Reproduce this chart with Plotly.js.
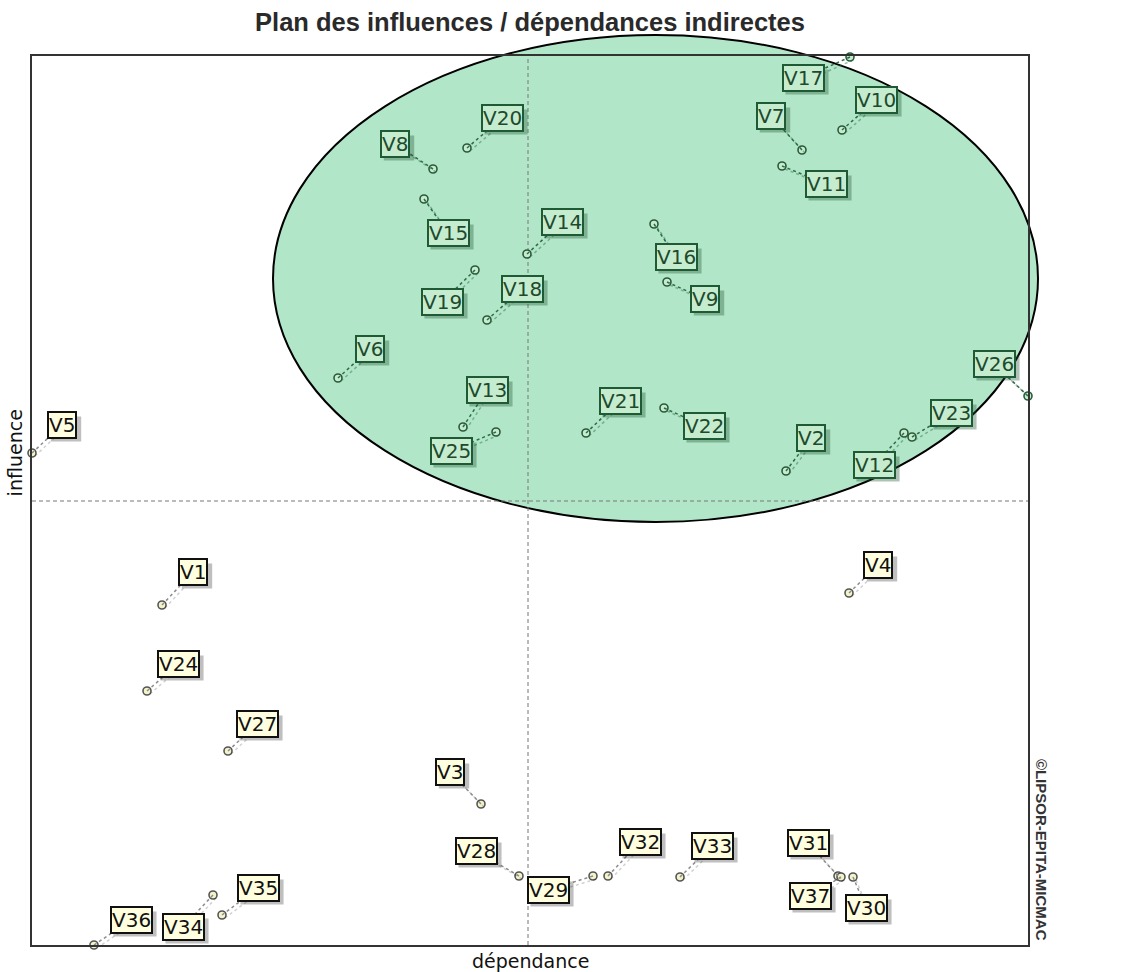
<!DOCTYPE html>
<html>
<head>
<meta charset="utf-8">
<script src="https://cdn.plot.ly/plotly-3.0.1.min.js"></script>
<style>
  html, body { margin: 0; padding: 0; background: #ffffff; }
  #chart { width: 1124px; height: 972px; }
</style>
</head>
<body>
<div id="chart"></div>
<script>
// Variable names
const variables = ['V1','V2','V3','V4','V5','V6','V7','V8','V9','V10',
  'V11','V12','V13','V14','V15','V16','V17','V18','V19','V20',
  'V21','V22','V23','V24','V25','V26','V27','V28','V29','V30',
  'V31','V32','V33','V34','V35','V36','V37'];
// Indirect dependence (x)
const dependance = [130, 754, 449, 817, 0, 306, 770, 401, 635, 810,
  750, 872, 431, 495, 392, 622, 818, 455, 443, 435,
  554, 632, 880, 115, 464, 996, 196, 487, 561, 821,
  806, 576, 648, 181, 190, 62, 809];
// Indirect influence (y)
const influence = [340, 474, 141, 352, 492, 567, 795, 776, 663, 815,
  779, 512, 518, 691, 746, 721, 888, 625, 675, 797,
  512, 537, 508, 254, 513, 549, 194, 69, 69, 68,
  69, 69, 68, 50, 30, 0, 68];
// Variables inside the highlighted (green) zone
const highlighted = ['V2','V6','V7','V8','V9','V10','V11','V12','V13','V14','V15','V16',
  'V17','V18','V19','V20','V21','V22','V23','V25','V26'];
const meanDependance = 496;
const meanInfluence = 444;

// Label placement offsets in screen pixels (dx right, dy down)
const labelOffsets = [[31,-33],[25,-33],[-31,-32],[29,-28],[30,-28],[32,-29],[-31,-34],[-38,-25],[38,17],[34,-30],
  [44,18],[-30,32],[24,-37],[35,-32],[24,34],[22,33],[-47,21],[35,-31],[-33,32],[35,-30],
  [34,-32],[40,18],[39,-24],[31,-27],[-45,19],[-34,-32],[29,-27],[-43,-25],[-45,14],[13,31],
  [-30,-33],[32,-34],[32,-31],[-30,32],[36,-27],[37,-25],[-31,19]];

const X_RANGE = [0, 996], Y_RANGE = [0, 889];
// highlighted ellipse in axis units
const ell = {x0: 241, x1: 1006, y0: 423, y1: 910};
const inside = variables.map(v => highlighted.includes(v));

const LABEL_FONT = 'DejaVu Sans, Liberation Sans, sans-serif';
const LABEL_SIZE = 20;
const PAD = 0;
const shapes = [];
const annotations = [];

// ellipse (paper coordinates so it is not clipped)
const toFrac = (v, r) => (v - r[0]) / (r[1] - r[0]);
shapes.push({type: 'circle', xref: 'paper', yref: 'paper', layer: 'below',
  x0: toFrac(ell.x0, X_RANGE), x1: toFrac(ell.x1, X_RANGE),
  y0: toFrac(ell.y0, Y_RANGE), y1: toFrac(ell.y1, Y_RANGE),
  fillcolor: '#b2e6c8', line: {color: '#000000', width: 2}});
// mean lines
shapes.push({type: 'line', xref: 'x', yref: 'paper', layer: 'below', x0: meanDependance, x1: meanDependance, y0: 0, y1: 1,
  line: {color: '#777777', width: 1, dash: '4px,3px'}});
shapes.push({type: 'line', xref: 'paper', yref: 'y', layer: 'below', x0: 0, x1: 1, y0: meanInfluence, y1: meanInfluence,
  line: {color: '#777777', width: 1, dash: '4px,3px'}});

variables.forEach((name, i) => {
  const [dx, dy] = labelOffsets[i];
  const g = inside[i];
  // dotted connectors (and their shadow)
  shapes.push({type: 'line', xref: 'x', yref: 'y', xsizemode: 'pixel', ysizemode: 'pixel',
    xanchor: dependance[i], yanchor: influence[i], x0: 3, y0: -3, x1: dx * 0.7 + 3, y1: -dy * 0.7 - 3,
    line: {color: g ? 'rgba(40,110,70,0.45)' : 'rgba(0,0,0,0.18)', width: 1.5, dash: 'dot'}});
  shapes.push({type: 'line', xref: 'x', yref: 'y', xsizemode: 'pixel', ysizemode: 'pixel',
    xanchor: dependance[i], yanchor: influence[i], x0: 0, y0: 0, x1: dx * 0.7, y1: -dy * 0.7,
    line: {color: g ? '#2f6b45' : '#8c8c8c', width: 1.5, dash: 'dot'}});
  // label drop shadow (box behind the label)
  const w = 13.7 + 12.7 * (name.length - 1) + 2 * PAD + 4, h = 25;
  shapes.push({type: 'rect', xref: 'x', yref: 'y', xsizemode: 'pixel', ysizemode: 'pixel', layer: 'above',
    xanchor: dependance[i], yanchor: influence[i],
    x0: dx - w / 2 + 4, x1: dx + w / 2 + 4, y0: -dy - h / 2 - 4, y1: -dy + h / 2 - 4,
    fillcolor: g ? 'rgba(30,80,50,0.35)' : 'rgba(0,0,0,0.25)', line: {width: 0}});
  // label
  annotations.push({x: dependance[i], y: influence[i], xref: 'x', yref: 'y', text: name, showarrow: false,
    xshift: dx, yshift: -dy, xanchor: 'center', yanchor: 'middle',
    font: {family: LABEL_FONT, size: LABEL_SIZE, color: g ? '#1d4a2c' : '#111111'},
    bgcolor: g ? '#c6eccf' : '#ffffe0', bordercolor: g ? '#1e5a34' : '#111111', borderwidth: 2, borderpad: PAD});
});

// axis titles / credits
annotations.push({xref: 'paper', yref: 'paper', x: 0.5, y: 0, yshift: -16, text: 'dépendance', showarrow: false,
  xanchor: 'center', yanchor: 'middle', font: {family: LABEL_FONT, size: 19, color: '#111'}});
annotations.push({xref: 'paper', yref: 'paper', x: 0, y: 0.553, xshift: -17, text: 'influence', showarrow: false, textangle: -90,
  xanchor: 'center', yanchor: 'middle', font: {family: LABEL_FONT, size: 19, color: '#111'}});
annotations.push({xref: 'paper', yref: 'paper', x: 1, y: 0.107, xshift: 13, text: '©LIPSOR-EPITA-MICMAC', showarrow: false, textangle: 90,
  xanchor: 'center', yanchor: 'middle', font: {family: 'Liberation Sans, Arial, sans-serif', size: 15, color: '#333', weight: 'bold'}});

const trace = {
  type: 'scatter', mode: 'markers', x: dependance, y: influence, text: variables,
  hovertemplate: '%{text}<br>dépendance %{x}<br>influence %{y}<extra></extra>',
  marker: {size: 8, symbol: 'circle',
    color: inside.map(g => g ? '#c6eccf' : '#f4f4cc'),
    line: {width: 1.6, color: inside.map(g => g ? '#2a5a3a' : '#555555')}},
  cliponaxis: false, showlegend: false
};

const layout = {
  width: 1124, height: 972,
  margin: {l: 32, r: 96, t: 56, b: 27},
  paper_bgcolor: '#ffffff', plot_bgcolor: 'rgba(0,0,0,0)',
  title: {text: '<b>Plan des influences / dépendances indirectes</b>', x: 0.5, xref: 'paper', y: 0.977, yanchor: 'middle',
    font: {family: 'Liberation Sans, Arial, sans-serif', size: 25.5, color: '#2a2a2a'}},
  xaxis: {range: X_RANGE, showticklabels: false, ticks: '', showgrid: false, zeroline: false,
    showline: true, mirror: true, linecolor: '#333', linewidth: 2, fixedrange: true},
  yaxis: {range: Y_RANGE, showticklabels: false, ticks: '', showgrid: false, zeroline: false,
    showline: true, mirror: true, linecolor: '#333', linewidth: 2, fixedrange: true},
  shapes: shapes, annotations: annotations
};

Plotly.newPlot('chart', [trace], layout, {displayModeBar: false});
</script>
</body>
</html>
